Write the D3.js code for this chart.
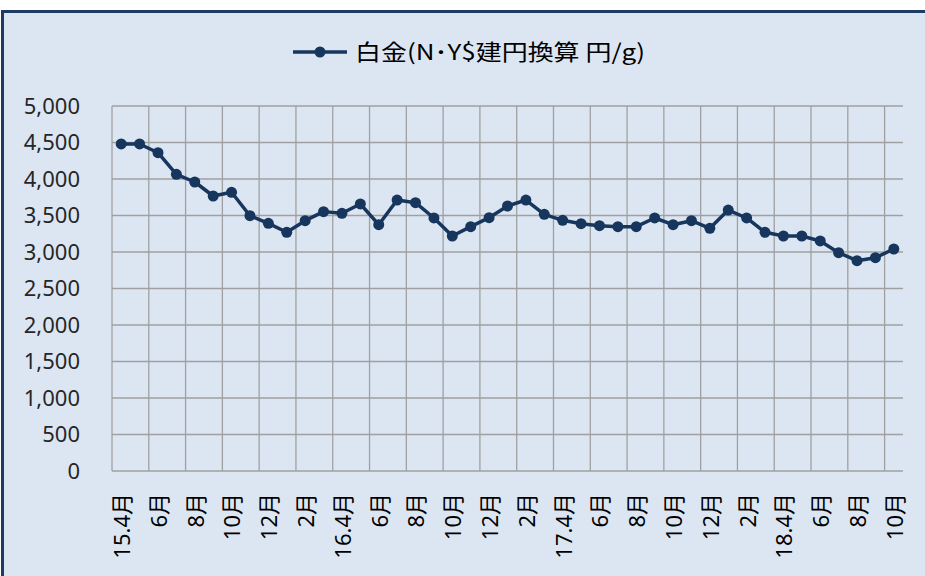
<!DOCTYPE html>
<html>
<head>
<meta charset="utf-8">
<script src="https://cdn.jsdelivr.net/npm/d3@7"></script>
<style>
    body { margin: 0; background: #ffffff; }
    svg { display: block; }
</style>
</head>
<body>
<div id="chart"></div>
<script>

// months shown on the category axis (label only on every second one)
const months = [
    "15.4月","5月","6月","7月","8月","9月","10月","11月","12月","1月","2月","3月",
    "16.4月","5月","6月","7月","8月","9月","10月","11月","12月","1月","2月","3月",
    "17.4月","5月","6月","7月","8月","9月","10月","11月","12月","1月","2月","3月",
    "18.4月","5月","6月","7月","8月","9月","10月"
];

// platinum, NY$ converted to yen per gram
const platinum = [
    4480, 4480, 4360, 4064, 3959, 3767, 3818, 3497, 3393, 3270, 3429, 3553,
    3530, 3658, 3374, 3712, 3676, 3466, 3219, 3347, 3470, 3630, 3712, 3516,
    3434, 3388, 3361, 3347, 3347, 3466, 3374, 3429, 3324, 3575, 3466, 3270,
    3219, 3219, 3151, 2991, 2881, 2922, 3041
];

const yTicks = [0, 500, 1000, 1500, 2000, 2500, 3000, 3500, 4000, 4500, 5000];

const legendLabel = "白金(N･Y$建円換算 円/g)";

const width = 925, height = 576;
const plot = {left: 112, right: 903, top: 106, bottom: 471};

const lineColor = "#17365d";
const gridColor = "#a0a0a0";

let svg = d3.select("#chart").append("svg")
    .attr("width", width)
    .attr("height", height);

// chart frame
svg.append("rect")
    .attr("x", 2.5)
    .attr("y", 11.5)
    .attr("width", width + 10)
    .attr("height", height + 10)
    .attr("fill", "#dce6f2")
    .attr("stroke", "#1f3a63")
    .attr("stroke-width", 3);

// scales
let x = d3.scaleBand()
    .domain(d3.range(months.length))
    .range([plot.left, plot.right])
    .padding(0);

let y = d3.scaleLinear()
    .domain([0, 5000])
    .range([plot.bottom, plot.top]);

// horizontal grid
svg.append("g")
    .selectAll("line")
    .data(yTicks)
    .join("line")
    .attr("x1", plot.left)
    .attr("x2", plot.right)
    .attr("y1", d => y(d))
    .attr("y2", d => y(d))
    .attr("stroke", gridColor)
    .attr("stroke-width", 1.3);

// vertical grid, every second month boundary
let evenIdx = d3.range(0, months.length, 2);
svg.append("g")
    .selectAll("line")
    .data(evenIdx)
    .join("line")
    .attr("x1", d => x(d))
    .attr("x2", d => x(d))
    .attr("y1", plot.top)
    .attr("y2", plot.bottom)
    .attr("stroke", gridColor)
    .attr("stroke-width", 1.3);

// y axis labels
let yAxis = d3.axisLeft(y)
    .tickValues(yTicks)
    .tickFormat(d3.format(","))
    .tickSize(0)
    .tickPadding(32);

svg.append("g")
    .attr("transform", `translate(${plot.left},0)`)
    .call(yAxis)
    .call(g => g.select(".domain").remove())
    .selectAll("text")
    .attr("font-family", "'Noto Sans', 'Open Sans', sans-serif")
    .attr("font-size", "22px")
    .attr("fill", "#262626");

// x axis labels, rotated
svg.append("g")
    .selectAll("text")
    .data(evenIdx)
    .join("text")
    .attr("transform", d => `translate(${x(d) + x.bandwidth() / 2 + 1}, ${plot.bottom + 22}) rotate(-90)`)
    .attr("text-anchor", "end")
    .attr("dy", "0.36em")
    .attr("font-family", "'Noto Sans', 'Noto Sans CJK JP', sans-serif")
    .attr("font-size", "22px")
    .attr("fill", "#000")
    .text(d => months[d]);

// the series
let line = d3.line()
    .x((d, i) => x(i) + x.bandwidth() / 2)
    .y(d => y(d));

svg.append("path")
    .datum(platinum)
    .attr("d", line)
    .attr("fill", "none")
    .attr("stroke", lineColor)
    .attr("stroke-width", 3.5)
    .attr("stroke-linejoin", "round");

svg.append("g")
    .selectAll("circle")
    .data(platinum)
    .join("circle")
    .attr("cx", (d, i) => x(i) + x.bandwidth() / 2)
    .attr("cy", d => y(d))
    .attr("r", 5.5)
    .attr("fill", lineColor);

// legend
let legend = svg.append("g")
    .attr("transform", "translate(293, 52)");

legend.append("line")
    .attr("x1", 0)
    .attr("x2", 54)
    .attr("stroke", lineColor)
    .attr("stroke-width", 3.5);

legend.append("circle")
    .attr("cx", 27)
    .attr("r", 5.5)
    .attr("fill", lineColor);

legend.append("text")
    .attr("x", 62)
    .attr("dy", "0.36em")
    .attr("font-family", "'Noto Sans CJK JP', sans-serif")
    .attr("font-size", "22px")
    .attr("fill", "#000")
    .attr("textLength", 290)
    .attr("lengthAdjust", "spacingAndGlyphs")
    .text(legendLabel);

</script>
</body>
</html>
